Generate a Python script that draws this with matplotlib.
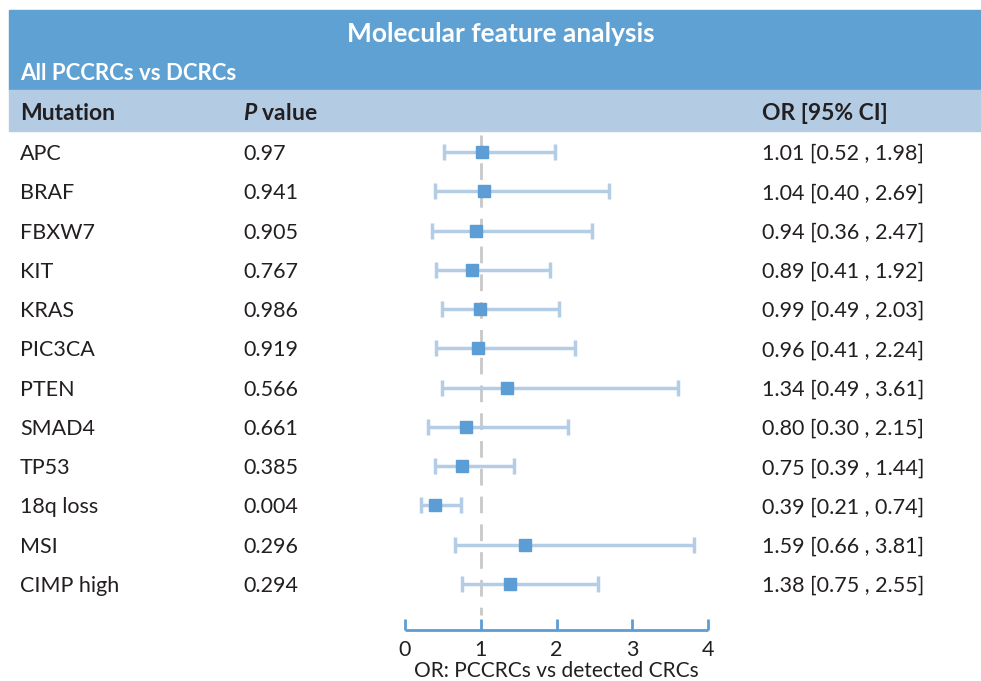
import matplotlib
matplotlib.use("Agg")
import matplotlib.pyplot as plt
from matplotlib.patches import Rectangle

plt.rcParams['font.family'] = ['Lato', 'DejaVu Sans']
plt.rcParams['mathtext.fontset'] = 'custom'
plt.rcParams['mathtext.it'] = 'Lato:italic:bold'
plt.rcParams['mathtext.rm'] = 'Lato:bold'

mutations = ["APC", "BRAF", "FBXW7", "KIT", "KRAS", "PIC3CA", "PTEN", "SMAD4",
             "TP53", "18q loss", "MSI", "CIMP high"]
p_values = ["0.97", "0.941", "0.905", "0.767", "0.986", "0.919", "0.566", "0.661",
            "0.385", "0.004", "0.296", "0.294"]
odds = [1.01, 1.04, 0.94, 0.89, 0.99, 0.96, 1.34, 0.80, 0.75, 0.39, 1.59, 1.38]
lower = [0.52, 0.40, 0.36, 0.41, 0.49, 0.41, 0.49, 0.30, 0.39, 0.21, 0.66, 0.75]
upper = [1.98, 2.69, 2.47, 1.92, 2.03, 2.24, 3.61, 2.15, 1.44, 0.74, 3.81, 2.55]
x_ticks = [0, 1, 2, 3, 4]

W, H = 981, 681
fig = plt.figure(figsize=(W / 100, H / 100), dpi=100)

DARK = '#5fa1d3'
LIGHT = '#b3cce4'
MARK = '#5b9dd4'
BAR = '#b3cde6'
TXT = '#231f20'
FS = 15.5
HFS = 16.5

def fx(px):
    return px / W

def fy(py):
    return 1 - py / H

# header bands
fig.patches.append(Rectangle((fx(9), fy(90)), 1 - fx(9), fy(10) - fy(90),
                             transform=fig.transFigure, color=DARK, zorder=0))
fig.patches.append(Rectangle((fx(9), fy(131)), 1 - fx(9), fy(90) - fy(131),
                             transform=fig.transFigure, color=LIGHT, zorder=0))

fig.text(fx(501), fy(34), "Molecular feature analysis", color='white',
         fontsize=19, fontweight='bold', ha='center', va='center')
fig.text(fx(20), fy(74), "All PCCRCs vs DCRCs", color='white',
         fontsize=16, fontweight='bold', ha='left', va='center')
fig.text(fx(20), fy(113), "Mutation", color=TXT, fontsize=HFS,
         fontweight='bold', ha='left', va='center')
fig.text(fx(243), fy(113), "$P$ value", color=TXT, fontsize=HFS,
         fontweight='bold', ha='left', va='center')
fig.text(fx(762), fy(113), "OR [95% CI]", color=TXT, fontsize=HFS,
         fontweight='bold', ha='left', va='center')

# forest axes
top_px, bot_px = 135, 630
row0, step = 152, (584 - 152) / 11
ax = fig.add_axes([fx(405), fy(bot_px), fx(708) - fx(405), fy(top_px) - fy(bot_px)])
ax.set_xlim(0, 4)
ax.set_ylim((bot_px - row0) / step, (top_px - row0) / step)
ax.patch.set_alpha(0)
for s in ['top', 'right', 'left']:
    ax.spines[s].set_visible(False)
ax.spines['bottom'].set_color(MARK)
ax.spines['bottom'].set_linewidth(2)
ax.spines['bottom'].set_capstyle('butt')
ax.set_yticks([])
ax.set_xticks(x_ticks)
ax.set_xticklabels([str(t) for t in x_ticks])
ax.tick_params(axis='x', direction='in', length=8, width=2, color=MARK,
               labelsize=FS, labelcolor=TXT, pad=7)
ax.set_xlabel("OR: PCCRCs vs detected CRCs", fontsize=15, color=TXT, labelpad=1)

ys = list(range(len(mutations)))
ax.plot([1, 1], [(top_px - row0) / step, (615 - row0) / step], color='#c8c8c8',
        lw=2, ls=(0, (6, 4)), zorder=1, clip_on=False)
xerr = [[o - l for o, l in zip(odds, lower)], [u - o for o, u in zip(odds, upper)]]
ax.errorbar(odds, ys, xerr=xerr, fmt='none', ecolor=BAR, elinewidth=2.5,
            capsize=6, capthick=2.5, zorder=2, clip_on=False)
ax.plot(odds, ys, ls='none', marker='s', markersize=9, color=MARK, zorder=3,
        clip_on=False)

for i in ys:
    y = fy(row0 + 2 + i * step)
    fig.text(fx(20), y, mutations[i], fontsize=FS, color=TXT, ha='left', va='center')
    fig.text(fx(243), y, p_values[i], fontsize=FS, color=TXT, ha='left', va='center')
    fig.text(fx(762), y, f"{odds[i]:.2f} [{lower[i]:.2f} , {upper[i]:.2f}]",
             fontsize=FS, color=TXT, ha='left', va='center')

fig.savefig("out.png", dpi=100)
